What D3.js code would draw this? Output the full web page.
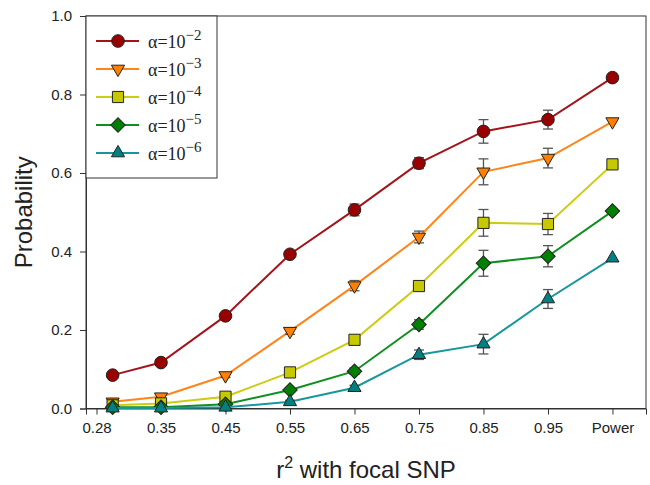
<!DOCTYPE html>
<html>
<head>
<meta charset="utf-8">
<script src="https://cdn.jsdelivr.net/npm/d3@7"></script>
<style>
  html, body { margin: 0; padding: 0; background: #fff; }
  svg { display: block; }
</style>
</head>
<body>
<div id="chart"></div>
<script>
// ---- data ----
const xValues = [0.275, 0.35, 0.45, 0.55, 0.65, 0.75, 0.85, 0.95, 1.05];
const xTickValues = [0.25, 0.35, 0.45, 0.55, 0.65, 0.75, 0.85, 0.95, 1.05];
const xTickLabels = ["0.28", "0.35", "0.45", "0.55", "0.65", "0.75", "0.85", "0.95", "Power"];
const yTickValues = [0, 0.2, 0.4, 0.6, 0.8, 1.0];

const seriesNames = ["−2", "−3", "−4", "−5", "−6"];
const alpha2 = [0.085, 0.117, 0.236, 0.393, 0.506, 0.625, 0.706, 0.736, 0.843];
const alpha3 = [0.017, 0.030, 0.084, 0.197, 0.313, 0.437, 0.603, 0.638, 0.731];
const alpha4 = [0.008, 0.013, 0.030, 0.092, 0.175, 0.312, 0.473, 0.470, 0.622];
const alpha5 = [0.003, 0.003, 0.011, 0.047, 0.095, 0.214, 0.370, 0.388, 0.503];
const alpha6 = [0.001, 0.001, 0.003, 0.017, 0.053, 0.137, 0.164, 0.279, 0.383];
const err2 = [0.004, 0.005, 0.006, 0.008, 0.015, 0.014, 0.030, 0.024, 0];
const err3 = [0.003, 0.004, 0.005, 0.008, 0.013, 0.015, 0.033, 0.025, 0];
const err4 = [0.002, 0.003, 0.004, 0.006, 0.008, 0.012, 0.034, 0.027, 0];
const err5 = [0.002, 0.002, 0.003, 0.005, 0.008, 0.012, 0.033, 0.027, 0];
const err6 = [0.001, 0.001, 0.002, 0.004, 0.006, 0.012, 0.025, 0.024, 0];

const lineColors = ["#a3141a", "#ff8419", "#cccc10", "#0f8f1f", "#17979a"];
const fillColors = ["#990000", "#ff7f00", "#c8c800", "#008000", "#008080"];
const shapes = ["circle", "triDown", "square", "diamond", "triUp"];

const values = [alpha2, alpha3, alpha4, alpha5, alpha6];
const errors = [err2, err3, err4, err5, err6];

// ---- layout ----
const W = 650, H = 485;
const plot = { left: 86, right: 646, top: 16, bottom: 408.5 };

const svg = d3.select("#chart").append("svg").attr("width", W).attr("height", H);

const x = d3.scaleLinear().domain([0.2337, 1.102]).range([plot.left, plot.right]);
const y = d3.scaleLinear().domain([0, 1]).range([plot.bottom, plot.top]);

function symbolPath(shape) {
  if (shape === "circle") return d3.symbol(d3.symbolCircle, 125)();
  if (shape === "square") return d3.symbol(d3.symbolSquare, 125)();
  if (shape === "diamond") return d3.symbol(d3.symbolSquare, 105)();
  return d3.symbol(d3.symbolTriangle, 75)();
}
function symbolRotate(shape) {
  if (shape === "diamond") return 45;
  if (shape === "triDown") return 180;
  return 0;
}

// frame
svg.append("rect")
  .attr("x", plot.left).attr("y", plot.top)
  .attr("width", plot.right - plot.left).attr("height", plot.bottom - plot.top)
  .attr("fill", "none").attr("stroke", "#333").attr("stroke-width", 1);

// axes
const xAxis = d3.axisBottom(x).tickValues(xTickValues)
  .tickFormat((d, i) => xTickLabels[i]).tickSize(6).tickPadding(8);
const gx = svg.append("g").attr("transform", `translate(0,${plot.bottom})`).call(xAxis);
const yAxis = d3.axisLeft(y).tickValues(yTickValues).tickFormat(d3.format(".1f")).tickSize(6).tickPadding(8);
const gy = svg.append("g").attr("transform", `translate(${plot.left},0)`).call(yAxis);
[gx, gy].forEach(g => {
  g.select(".domain").attr("stroke", "#333");
  g.selectAll(".tick line").attr("stroke", "#333");
  g.selectAll(".tick text").attr("font-family", "Liberation Sans, Arial, sans-serif")
    .attr("font-size", 15).attr("fill", "#222");
});

// axis titles
const xt = svg.append("text")
  .attr("x", (plot.left + plot.right) / 2).attr("y", 478)
  .attr("text-anchor", "middle")
  .attr("font-family", "Liberation Sans, Arial, sans-serif")
  .attr("font-size", 24).attr("fill", "#222");
xt.append("tspan").text("r");
xt.append("tspan").attr("font-size", 16).attr("dy", -10).text("2");
xt.append("tspan").attr("dy", 10).text(" with focal SNP");

svg.append("text")
  .attr("transform", `translate(32,${(plot.top + plot.bottom) / 2}) rotate(-90)`)
  .attr("text-anchor", "middle")
  .attr("font-family", "Liberation Sans, Arial, sans-serif")
  .attr("font-size", 24).attr("fill", "#222")
  .text("Probability");

// series
const line = d3.line().x((d, i) => x(xValues[i])).y(d => y(d));
values.forEach((vals, s) => {
  const g = svg.append("g");
  g.append("path").datum(vals).attr("d", line)
    .attr("fill", "none").attr("stroke", lineColors[s]).attr("stroke-width", 2);
  // error bars
  const eb = g.selectAll(".eb").data(vals.map((v, i) => ({ v, e: errors[s][i], xv: xValues[i] })).filter(d => d.e > 0))
    .enter().append("g").attr("stroke", "#555").attr("stroke-width", 1.3);
  eb.append("line").attr("x1", d => x(d.xv)).attr("x2", d => x(d.xv))
    .attr("y1", d => y(d.v - d.e)).attr("y2", d => y(d.v + d.e));
  eb.append("line").attr("x1", d => x(d.xv) - 5).attr("x2", d => x(d.xv) + 5)
    .attr("y1", d => y(d.v - d.e)).attr("y2", d => y(d.v - d.e));
  eb.append("line").attr("x1", d => x(d.xv) - 5).attr("x2", d => x(d.xv) + 5)
    .attr("y1", d => y(d.v + d.e)).attr("y2", d => y(d.v + d.e));
  // markers
  g.selectAll(".mk").data(vals).enter().append("path")
    .attr("d", symbolPath(shapes[s]))
    .attr("transform", (d, i) => `translate(${x(xValues[i])},${y(d)}) rotate(${symbolRotate(shapes[s])})`)
    .attr("fill", fillColors[s]).attr("stroke", "#222").attr("stroke-width", 1);
});

// legend
const leg = svg.append("g");
leg.append("rect").attr("x", plot.left).attr("y", plot.top).attr("width", 131).attr("height", 162)
  .attr("fill", "#fff").attr("stroke", "#333").attr("stroke-width", 1);
seriesNames.forEach((nm, s) => {
  const cy = 41 + s * 28;
  leg.append("line").attr("x1", 96).attr("x2", 139).attr("y1", cy).attr("y2", cy)
    .attr("stroke", lineColors[s]).attr("stroke-width", 2);
  leg.append("path").attr("d", symbolPath(shapes[s]))
    .attr("transform", `translate(118,${cy}) rotate(${symbolRotate(shapes[s])})`)
    .attr("fill", fillColors[s]).attr("stroke", "#222").attr("stroke-width", 1);
  const t = leg.append("text").attr("x", 148).attr("y", cy + 7)
    .attr("font-family", "Liberation Serif, Times New Roman, serif")
    .attr("font-size", 18).attr("fill", "#222");
  t.append("tspan").text("α=10");
  t.append("tspan").attr("font-size", 15).attr("dy", -8).text(nm);
});
</script>
</body>
</html>
